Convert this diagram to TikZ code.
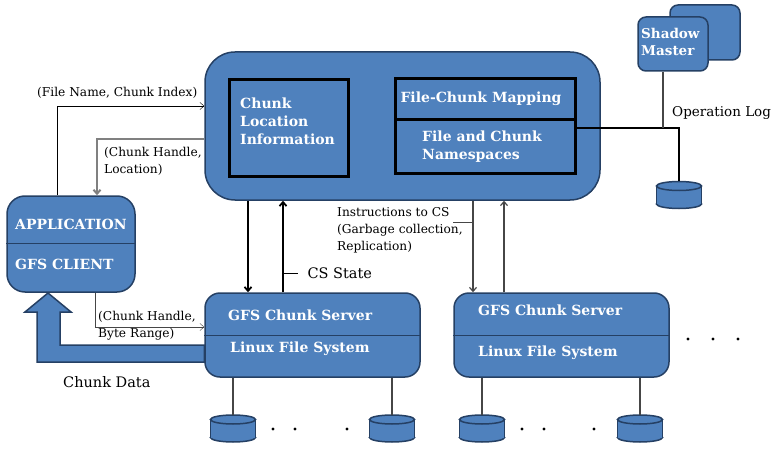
\documentclass[tikz,border=0pt]{standalone}
\usepackage{fontspec}
\setmainfont{DejaVu Serif}
\usetikzlibrary{backgrounds,arrows.meta}
\definecolor{boxblue}{RGB}{79,129,189}
\definecolor{boxedge}{RGB}{37,64,100}
\definecolor{lnk}{RGB}{70,70,70}
\newcommand{\dbase}[3]{%
	\node[minimum width=45pt, minimum height=27pt, inner sep=0pt] (#1)at(#2, #3) {};
	\begin{scope}[shift={(#2, #3)}]
	\filldraw[fill=boxblue, draw=boxedge, line width=1.5pt] (0,9) ellipse [x radius=22.5pt, y radius=4.5pt];
	\fill[boxblue] (-22.5,-9) rectangle (22.5,9);
	\draw[boxedge, line width=1.5pt] (-22.5,-9) -- (-22.5,9) (22.5,-9) -- (22.5,9);
	\filldraw[fill=boxblue, draw=boxedge, line width=1.5pt] (0,-9) ellipse [x radius=22.5pt, y radius=4.5pt];
	\end{scope}}

\begin{document}
\begin{tikzpicture}[x=1pt, y=-1pt,
	blk/.style={draw=boxedge, line width=1.5pt, fill=boxblue, rectangle},
	inbox/.style={draw=black, line width=3pt, fill=boxblue, rectangle},
	wt/.style={text=white, font=\bfseries\fontsize{14}{18}\selectfont, align=left, inner sep=0pt},
	lb/.style={font=\fontsize{12.2}{17}\selectfont, align=left, inner sep=0pt},
	big/.style={font=\fontsize{14.5}{16}\selectfont, inner sep=0pt},
	arr/.style={->, >={Straight Barb[length=4pt, width=7pt]}}]
				\useasboundingbox (0,0) rectangle (781,449);
				\node[blk, rounded corners=30pt, minimum width=395pt, minimum height=148pt] (M)at(402.5, 126) {};
				\node[inbox, minimum width=119pt, minimum height=97pt] (CLI)at(288.5, 128.5) {};
				\node[inbox, minimum width=180pt, minimum height=41pt] (FCM)at(485, 99.5) {};
				\node[inbox, minimum width=180pt, minimum height=54pt] (NS)at(485, 147) {};
				\node[wt, anchor=west] (CLIt)at(240, 121) {Chunk\\Location\\Information};
				\node[wt] (FCMt)at(481, 99) {File-Chunk Mapping};
				\node[wt, anchor=west] (NSt)at(422, 147) {File and Chunk\\Namespaces};
				\node[blk, rounded corners=8pt, minimum width=70pt, minimum height=55pt] (SM2)at(705, 32.5) {};
				\node[blk, rounded corners=8pt, minimum width=70pt, minimum height=54pt] (SM)at(673, 44) {};
				\node[wt, font=\bfseries\fontsize{13.5}{17}\selectfont, anchor=west] (SMt)at(641, 42) {Shadow\\Master};
				\node[blk, rounded corners=18pt, minimum width=128pt, minimum height=96pt] (C)at(71, 244) {};
				\draw[boxedge] (C.west |- 0,243) -- (C.east |- 0,243);
				\node[wt, anchor=west] (Ct1)at(15, 224) {APPLICATION};
				\node[wt, anchor=west] (Ct2)at(15, 264) {GFS CLIENT};
				\node[blk, rounded corners=15pt, minimum width=215pt, minimum height=84pt] (CS1)at(312.5, 335) {};
				\node[blk, rounded corners=15pt, minimum width=215pt, minimum height=84pt] (CS2)at(561.5, 335) {};
				\draw[boxedge] (CS1.west) -- (CS1.east);
				\draw[boxedge] (CS2.west) -- (CS2.east);
				\node[wt, anchor=west] (CS1a)at(228, 315) {GFS Chunk Server};
				\node[wt, anchor=west] (CS1b)at(230, 349) {Linux File System};
				\node[wt, anchor=west] (CS2a)at(478, 310) {GFS Chunk Server};
				\node[wt, anchor=west] (CS2b)at(478, 353) {Linux File System};
				\dbase{D1}{233}{428.5}
				\dbase{D2}{392}{428.5}
				\dbase{D3}{482}{428.5}
				\dbase{D4}{640}{428.5}
				\dbase{OL}{679}{195}
				\foreach \d in {D1, D2} \draw[lnk, line width=1.5pt] (\d.north |- CS1.south) -- (\d.north);
				\foreach \d in {D3, D4} \draw[lnk, line width=1.5pt] (\d.north |- CS2.south) -- (\d.north);
				\foreach \p in {(273,429), (295,429), (347,429), (522,429), (544,429), (594,429), (688,339), (713,339), (738,339)} \fill \p circle (1.6pt);
				\coordinate (fn) at (57, 106);
				\coordinate (chl) at (97, 139);
				\coordinate (chb) at (95, 327);
				\coordinate (d1) at (248, 250);
				\coordinate (u1) at (283, 273);
				\coordinate (d2) at (473, 222);
				\coordinate (u2) at (504, 250);
				\coordinate (ol) at (679, 128);
				\coordinate (olm) at (663, 128);
				\draw[arr] (C.north -| fn) -- (fn) -- (M.west |- fn);
				\draw[arr, gray, line width=2pt] (M.west |- chl) -- (chl) -- (C.north -| chl);
				\draw[arr, lnk] (C.south -| chb) -- (chb) -- (CS1.west |- chb);
				\draw[arr, line width=1.8pt] (M.south -| d1) -- (CS1.north -| d1);
				\draw[arr, line width=1.8pt] (CS1.north -| u1) -- (M.south -| u1);
				\draw[arr, lnk, line width=1.2pt] (M.south -| d2) -- (CS2.north -| d2);
				\draw[arr, lnk, line width=1.2pt] (CS2.north -| u2) -- (M.south -| u2);
				\draw[line width=1pt] (u1) -- ++(15,0) node[big, anchor=west, xshift=9pt] (CSS) {CS State};
				\draw[lnk, line width=1pt] (d2) -- ++(-20,0);
				\draw[line width=1.2pt] (NS.east |- ol) -- (ol) -- (OL.north);
				\draw[lnk, line width=1.2pt] (SM.south -| olm) -- (olm);
				\node[lb, anchor=west] (FNt)at(37, 93) {(File Name, Chunk Index)};
				\node[lb, anchor=west] (CHLt)at(104, 161) {(Chunk Handle,\\Location)};
				\node[lb, anchor=west] (INt)at(337, 230) {Instructions to CS\\(Garbage collection,\\Replication)};
				\node[lb, anchor=west] (CHBt)at(98, 326) {(Chunk Handle,\\Byte Range)};
				\node[big, anchor=west] (CDt)at(63, 382) {Chunk Data};
				\node[big, font=\fontsize{13.5}{16}\selectfont, anchor=west] (OLt)at(672, 113) {Operation Log};
				\begin{scope}[on background layer]
				\filldraw[fill=boxblue, draw=boxedge, line width=1.5pt] (CS1.west |- 0,345) -- (60,345) -- (60,312) -- (71,312) -- (48,293) -- (25,312) -- (37,312) -- (37,362) -- (CS1.west |- 0,362) -- cycle;
				\end{scope}
			\end{tikzpicture}
\end{document}
